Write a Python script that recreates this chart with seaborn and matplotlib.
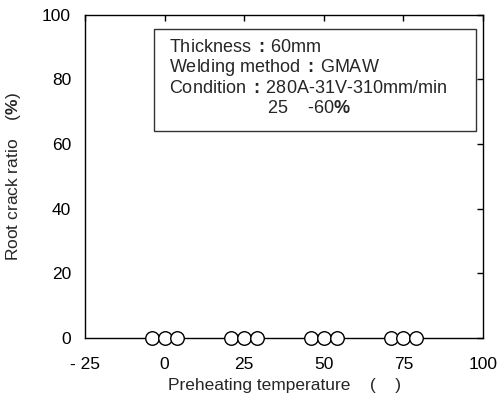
import numpy as np
import pandas as pd
import matplotlib
matplotlib.use('Agg')
import matplotlib.pyplot as plt
import seaborn as sns

# 数据
temp = [-4, 0, 4, 21, 25, 29, 46, 50, 54, 71, 75, 79]
ratio = [0, 0, 0, 0, 0, 0, 0, 0, 0, 0, 0, 0]
x_ticks = [-25, 0, 25, 50, 75, 100]
x_labels = ['- 25', '0', '25', '50', '75', '100']
y_ticks = [0, 20, 40, 60, 80, 100]

df = pd.DataFrame({'temp': temp, 'ratio': ratio})

sns.set_style('white')
plt.rcParams['font.family'] = ['Liberation Sans', 'DejaVu Sans']
plt.rcParams['mathtext.fontset'] = 'custom'
plt.rcParams['mathtext.rm'] = 'Liberation Sans'
plt.rcParams['mathtext.bf'] = 'Liberation Sans:bold'

fig = plt.figure(figsize=(5, 4.09), dpi=100)
ax = fig.add_axes([85/500, 1-338/409, 398/500, 323.5/409])

sns.scatterplot(data=df, x='temp', y='ratio', ax=ax, s=95, marker='o',
                facecolor='white', edgecolor='black', linewidth=1,
                zorder=5, clip_on=False)

ax.set_xlim(-25, 100)
ax.set_ylim(0, 100)
ax.set_xticks(x_ticks)
ax.set_xticklabels(x_labels)
ax.set_yticks(y_ticks)
for s in ax.spines.values():
    s.set_color('black')
    s.set_linewidth(1)
ax.tick_params(axis='both', labelsize=12.5, colors='black')
ax.tick_params(axis='x', pad=14)
ax.tick_params(axis='y', pad=10)
# 只有上边和右边有向内的刻度
ax.tick_params(top=True, right=True, bottom=False, left=False, direction='in',
               length=4, width=1, labeltop=False, labelright=False)

ax.set_xlabel('Preheating temperature    (    )', fontsize=12.5, labelpad=4)
ax.set_ylabel(r'Root crack ratio    ($\mathbf{\%}$)', fontsize=12.5, labelpad=14)

# 文本框
box = plt.Rectangle((0.173, 0.64), 0.809, 0.315, transform=ax.transAxes,
                    facecolor='white', edgecolor='#333333', linewidth=1, zorder=6)
ax.add_patch(box)
lines = [r'Thickness $\mathbf{:}\,$60mm',
         r'Welding method $\mathbf{:}\,$GMAW',
         r'Condition $\mathbf{:}\,$280A-31V-310mm/min']
for i, t in enumerate(lines):
    ax.text((169-85)/398, (338-47-20.5*i)/323.5, t, transform=ax.transAxes,
            fontsize=13, va='center', ha='left', zorder=7)
ax.text((267-85)/398, (338-108)/323.5, r'25    -60$\mathbf{\%}$', transform=ax.transAxes,
        fontsize=13, va='center', ha='left', zorder=7)

plt.savefig('out.png', dpi=100)
